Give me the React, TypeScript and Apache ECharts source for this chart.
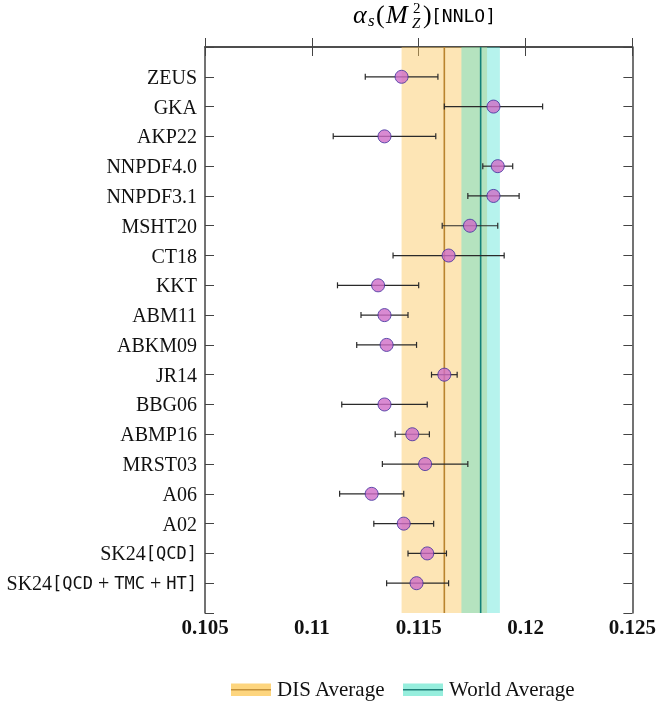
import React, { useEffect, useRef } from "react";
import * as echarts from "echarts";

// Determinations of the strong coupling at NNLO, one row per analysis (top to bottom)
const labels: string[] = [
  "ZEUS",
  "GKA",
  "AKP22",
  "NNPDF4.0",
  "NNPDF3.1",
  "MSHT20",
  "CT18",
  "KKT",
  "ABM11",
  "ABKM09",
  "JR14",
  "BBG06",
  "ABMP16",
  "MRST03",
  "A06",
  "A02",
  "SK24[QCD]",
  "SK24[QCD + TMC + HT]",
];

const central: number[] = [
  0.1142, 0.1185, 0.1134, 0.1187, 0.1185, 0.1174, 0.1164, 0.1131, 0.1134,
  0.1135, 0.1162, 0.1134, 0.1147, 0.1153, 0.1128, 0.1143, 0.1154, 0.1149,
];

const errLow: number[] = [
  0.0017, 0.0023, 0.0024, 0.0007, 0.0012, 0.0013, 0.0026, 0.0019, 0.0011,
  0.0014, 0.0006, 0.002, 0.0008, 0.002, 0.0015, 0.0014, 0.0009, 0.0014,
];

const errHigh: number[] = [
  0.0017, 0.0023, 0.0024, 0.0007, 0.0012, 0.0013, 0.0026, 0.0019, 0.0011,
  0.0014, 0.0006, 0.002, 0.0008, 0.002, 0.0015, 0.0014, 0.0009, 0.0015,
];

// Averages drawn as shaded bands with a line at the central value
const disAverage = { value: 0.1162, error: 0.002 };
const worldAverage = { value: 0.1179, error: 0.0009 };

const xTicks: number[] = [0.105, 0.11, 0.115, 0.12, 0.125];

const SERIF = "Liberation Serif";
const MONO = "DejaVu Sans Mono";

const ORANGE = "rgba(251,197,90,0.45)";
const ORANGE_LINE = "#B9842E";
const TEAL = "rgba(64,224,208,0.38)";
const TEAL_LINE = "#13807A";
const AXIS = "#444";

// Plain names stay plain text; bracketed qualifiers are set in typewriter type,
// while the name itself and the plus signs keep the label's own serif style
function richLabel(name: string): string {
  const open = name.indexOf("[");
  if (open < 0) return name;
  const head = name.slice(0, open);
  const inner = name.slice(open + 1, name.length - 1);
  const parts = inner.split(" + ").map((p) => `{m|${p}}`);
  parts[0] = parts[0].replace("{m|", "{m|[");
  const last = parts.length - 1;
  parts[last] = parts[last].slice(0, -1) + "]}";
  return head + parts.join(" + ");
}

export default function App() {
  const ref = useRef<HTMLDivElement>(null);

  useEffect(() => {
    if (!ref.current) return;
    const chart = echarts.init(ref.current, undefined, { renderer: "svg" });

    const rows = labels.map((_, i) => i + 1);
    const yTop = 0;
    const yBottom = labels.length + 1;
    const points = central.map((c, i) => [c, rows[i]]);
    const bars = central.map((c, i) => [rows[i], c - errLow[i], c + errHigh[i]]);

    const xMin = xTicks[0];
    const xMax = xTicks[xTicks.length - 1];
    const xStep = 0.005;

    const axisLine = { show: true, lineStyle: { color: AXIS, width: 1.5 } };
    const axisTick = { show: true, inside: true, length: 9, lineStyle: { color: AXIS, width: 1 } };

    // band with a central line, spanning the full height of the grid
    const bandSeries = (
      name: string,
      avg: { value: number; error: number },
      fill: string,
      stroke: string,
      z: number
    ) => ({
      name,
      type: "custom",
      z,
      silent: true,
      clip: true,
      data: [[avg.value - avg.error, avg.value + avg.error, avg.value]],
      encode: { x: [0, 1, 2] },
      renderItem: (_params: any, api: any) => {
        const tl = api.coord([api.value(0), yTop]);
        const br = api.coord([api.value(1), yBottom]);
        const c = api.coord([api.value(2), yTop]);
        const cb = api.coord([api.value(2), yBottom]);
        return {
          type: "group",
          children: [
            {
              type: "rect",
              shape: { x: tl[0], y: tl[1], width: br[0] - tl[0], height: br[1] - tl[1] },
              style: { fill },
            },
            {
              type: "line",
              shape: { x1: c[0], y1: c[1], x2: cb[0], y2: cb[1] },
              style: { stroke, lineWidth: 1.6 },
            },
          ],
        };
      },
    });

    const mathText = (
      text: string,
      x: number,
      y: number,
      size: number,
      italic: boolean,
      family = SERIF
    ) => ({
      type: "text",
      x,
      y,
      style: {
        text,
        fill: "#000",
        fontFamily: family,
        fontSize: size,
        fontStyle: italic ? "italic" : "normal",
        verticalAlign: "middle",
      },
    });

    const legendItem = (x: number, fill: string, line: string, text: string) => [
      { type: "rect", shape: { x, y: 683.5, width: 40, height: 12.5 }, style: { fill } },
      {
        type: "line",
        shape: { x1: x, y1: 689.8, x2: x + 40, y2: 689.8 },
        style: { stroke: line, lineWidth: 1.5 },
      },
      {
        type: "text",
        x: x + 46,
        y: 678,
        style: { text, fontFamily: SERIF, fontSize: 21, fill: "#111" },
      },
    ];

    chart.setOption({
      animation: false,
      grid: { left: 205, right: 24, top: 47, bottom: 93, containLabel: false },
      xAxis: [
        {
          type: "value",
          position: "bottom",
          min: xMin,
          max: xMax,
          interval: xStep,
          axisLine,
          axisTick,
          splitLine: { show: false },
          axisLabel: {
            margin: 3,
            color: "#111",
            fontFamily: SERIF,
            fontWeight: "bold",
            fontSize: 21,
            formatter: (v: number) => String(+v.toFixed(3)),
          },
        },
        {
          type: "value",
          position: "top",
          min: xMin,
          max: xMax,
          interval: xStep,
          axisLine,
          axisTick,
          splitLine: { show: false },
          axisLabel: { show: false },
        },
      ],
      yAxis: [
        {
          type: "value",
          position: "left",
          inverse: true,
          min: yTop,
          max: yBottom,
          interval: 1,
          axisLine,
          axisTick,
          splitLine: { show: false },
          axisLabel: {
            margin: 8,
            color: "#111",
            fontFamily: SERIF,
            fontSize: 20,
            formatter: (v: number) =>
              v >= 1 && v <= labels.length ? richLabel(labels[v - 1]) : "",
            rich: {
              m: { fontFamily: MONO, fontSize: 17, color: "#111" },
            },
          },
        },
        {
          type: "value",
          position: "right",
          inverse: true,
          min: yTop,
          max: yBottom,
          interval: 1,
          axisLine,
          axisTick,
          splitLine: { show: false },
          axisLabel: { show: false },
        },
      ],
      series: [
        bandSeries("DIS Average", disAverage, ORANGE, ORANGE_LINE, 1),
        bandSeries("World Average", worldAverage, TEAL, TEAL_LINE, 2),
        {
          name: "errors",
          type: "custom",
          z: 3,
          silent: true,
          data: bars,
          encode: { x: [1, 2], y: 0 },
          renderItem: (_params: any, api: any) => {
            const row = api.value(0);
            const a = api.coord([api.value(1), row]);
            const b = api.coord([api.value(2), row]);
            const cap = 3;
            const style = { stroke: "#2a2a2a", lineWidth: 1.2 };
            return {
              type: "group",
              children: [
                { type: "line", shape: { x1: a[0], y1: a[1], x2: b[0], y2: b[1] }, style },
                { type: "line", shape: { x1: a[0], y1: a[1] - cap, x2: a[0], y2: a[1] + cap }, style },
                { type: "line", shape: { x1: b[0], y1: b[1] - cap, x2: b[0], y2: b[1] + cap }, style },
              ],
            };
          },
        },
        {
          name: "values",
          type: "scatter",
          z: 4,
          silent: true,
          symbol: "circle",
          symbolSize: 13,
          itemStyle: { color: "#CF6DC7", borderColor: "#3B2D9C", borderWidth: 1 },
          data: points,
        },
      ],
      graphic: [
        mathText("α", 353, 14, 26, true),
        mathText("s", 368, 20.5, 17, true),
        mathText("(", 376, 14, 26, false),
        mathText("M", 386, 14, 26, true),
        mathText("2", 413, 7.5, 15, false),
        mathText("Z", 412, 23, 15, true),
        mathText(")", 423, 14, 26, false),
        mathText("[NNLO]", 431, 15.5, 18, false, MONO),
        ...legendItem(231, "#FDD57E", "#C4913A", "DIS Average"),
        ...legendItem(403, "#96EEDD", "#1F7F78", "World Average"),
      ],
    });

    return () => chart.dispose();
  }, []);

  return (
    <div
      ref={ref}
      style={{ position: "fixed", left: 0, top: 0, width: 659, height: 706 }}
    />
  );
}
